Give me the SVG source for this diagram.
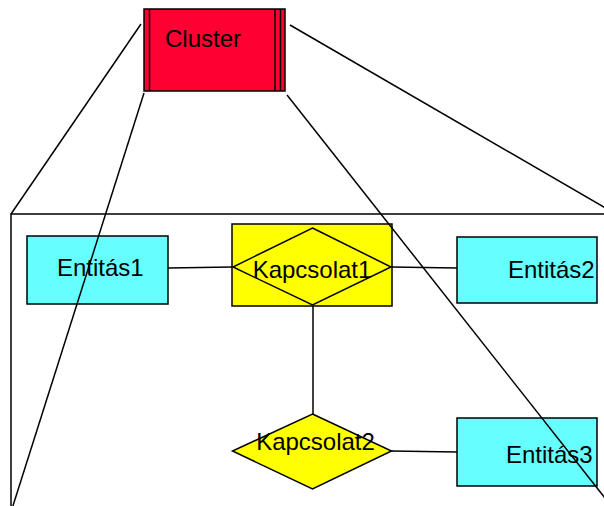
<svg xmlns="http://www.w3.org/2000/svg" width="604" height="506" viewBox="0 0 604 506">
  <style>
    .edge { stroke: #000; stroke-width: 1.5; fill: none; }
    .ent { fill: #66FFFF; stroke: #000; stroke-width: 1.5; }
    .rel { fill: #FFFF00; stroke: #000; stroke-width: 1.5; }
    .clu { fill: #FF0033; stroke: #000; stroke-width: 1.5; }
    .lbl { font-family: "Liberation Sans", Arial, sans-serif; font-size: 24px; fill: #000; }
  </style>
  <rect width="604" height="506" fill="#fff"/>

  <!-- relationship connectors between entities -->
  <g id="connectors">
    <line class="edge" x1="168" y1="268" x2="232" y2="267"/>
    <line class="edge" x1="391" y1="267" x2="457" y2="268"/>
    <line class="edge" x1="313" y1="306" x2="313" y2="414"/>
    <line class="edge" x1="391" y1="451" x2="457" y2="452"/>
  </g>

  <g id="cluster">
    <rect class="clu" x="144" y="9" width="141" height="82"/>
    <line class="edge" x1="149.5" y1="9" x2="149.5" y2="91"/>
    <line class="edge" x1="275" y1="9" x2="275" y2="91"/>
    <line class="edge" x1="280.5" y1="9" x2="280.5" y2="91"/>
    <text class="lbl" x="165" y="47">Cluster</text>
  </g>

  <g id="entitas1">
    <rect class="ent" x="27" y="236" width="141" height="68"/>
    <text class="lbl" x="57" y="276">Entitás1</text>
  </g>

  <g id="kapcsolat1">
    <rect class="rel" x="232" y="224" width="160" height="82"/>
    <polygon class="rel" points="312.5,228 391,267 312.5,305 233,267"/>
    <text class="lbl" x="312" y="278" text-anchor="middle">Kapcsolat1</text>
  </g>

  <g id="entitas2">
    <rect class="ent" x="457" y="237" width="140" height="66"/>
    <text class="lbl" x="508" y="278">Entitás2</text>
  </g>

  <g id="kapcsolat2">
    <polygon class="rel" points="312.5,414 391.5,451 312.5,489 232.5,451"/>
    <text class="lbl" x="315.5" y="450" text-anchor="middle">Kapcsolat2</text>
  </g>

  <g id="entitas3">
    <rect class="ent" x="457" y="418" width="140" height="68"/>
    <text class="lbl" x="506" y="463">Entitás3</text>
  </g>

  <!-- expanded cluster frame with projection lines, drawn over the nodes -->
  <g id="cluster-projection">
    <rect class="edge" x="11" y="214" width="605" height="300"/>
    <line class="edge" x1="141" y1="24" x2="11" y2="214"/>
    <line class="edge" x1="290" y1="25" x2="616" y2="214"/>
    <line class="edge" x1="144" y1="93" x2="11" y2="512"/>
    <line class="edge" x1="287" y1="95" x2="616" y2="512"/>
  </g>
</svg>
